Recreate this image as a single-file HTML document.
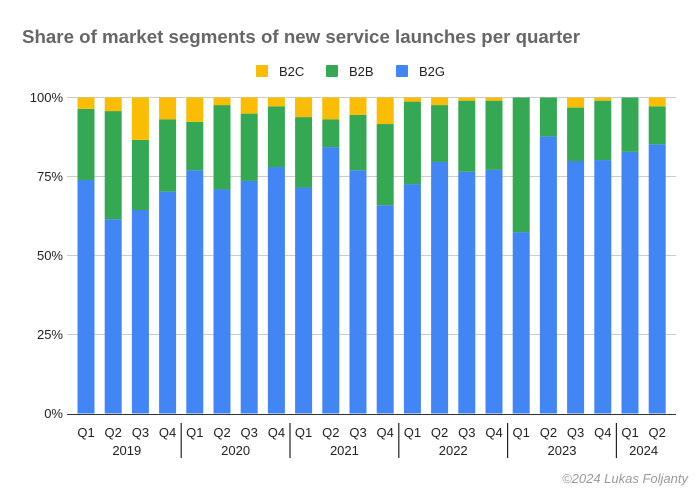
<!DOCTYPE html>
<html><head><meta charset="utf-8"><style>
body{margin:0;background:#fff;}
svg{display:block;font-family:"Liberation Sans",Arial,sans-serif;}
</style></head><body>
<svg id="chart" width="700" height="490" viewBox="0 0 700 490">
<text x="22" y="43" font-size="18" font-weight="bold" fill="#666" textLength="558" lengthAdjust="spacingAndGlyphs">Share of market segments of new service launches per quarter</text>
<g>
<g><rect x="256" y="65" width="12" height="12" rx="1" fill="#FBBC04"/><text x="279" y="76" font-size="13" fill="#222">B2C</text></g>
<g><rect x="326" y="65" width="12" height="12" rx="1" fill="#34A853"/><text x="349" y="76" font-size="13" fill="#222">B2B</text></g>
<g><rect x="396" y="65" width="12" height="12" rx="1" fill="#4285F4"/><text x="419" y="76" font-size="13" fill="#222">B2G</text></g>
</g>
<g id="grid"></g>
<g id="bars"></g>
<g id="xaxis"></g>
<text x="688" y="483" font-size="13" font-style="italic" fill="#999" text-anchor="end">©2024 Lukas Foljanty</text>
</svg>
<script>
const quarters = ["Q1","Q2","Q3","Q4","Q1","Q2","Q3","Q4","Q1","Q2","Q3","Q4","Q1","Q2","Q3","Q4","Q1","Q2","Q3","Q4","Q1","Q2"];
const years = ["2019","2020","2021","2022","2023","2024"];
const b2g = [73.9,61.5,64.4,70.2,77.0,70.9,73.6,78.0,71.5,84.3,77.0,65.9,72.6,79.6,76.5,77.1,57.4,87.7,79.9,80.2,82.8,85.2];
const b2b = [22.5,34.2,22.2,22.9,15.3,26.7,21.3,19.2,22.3,8.8,17.5,25.7,26.1,18.0,22.5,21.9,42.6,12.3,16.9,18.8,17.2,12.0];
const b2c = [3.6,4.3,13.4,6.9,7.7,2.4,5.1,2.8,6.2,6.9,5.5,8.4,1.3,2.4,1.0,1.0,0.0,0.0,3.2,1.0,0.0,2.8];
const yTicks = [0,25,50,75,100];
const yTickLabels = ["0%","25%","50%","75%","100%"];

const NS="http://www.w3.org/2000/svg";
const y0=413.5, yTop=97.5, x0=86, step=27.2, bw=17, plotL=67, plotR=676;
function yScale(v){return y0-(y0-yTop)*v/100;}
function xScale(i){return x0+i*step;}
function mk(tag,attrs,parent){const e=document.createElementNS(NS,tag);for(const k in attrs)e.setAttribute(k,attrs[k]);parent.appendChild(e);return e;}

const grid=document.getElementById('grid');
yTicks.forEach((t,i)=>{
  if(t>0){const l=mk('line',{x1:plotL,x2:plotR,y1:yScale(t),y2:yScale(t),stroke:'#ccc','stroke-width':1},grid);
  
  }
  const tx=mk('text',{x:63,y:yScale(t)+4.5,'font-size':13,fill:'#222','text-anchor':'end'},grid);
  tx.textContent=yTickLabels[i];
  
  
});

const bars=document.getElementById('bars');
const series=[[b2g,'#4285F4','b2g'],[b2b,'#34A853','b2b'],[b2c,'#FBBC04','b2c']];
quarters.forEach((q,i)=>{
  let acc=0;
  series.forEach(([arr,col,nm])=>{
    const v=arr[i]; if(v<=0){return;}
    const top=yScale(acc+v), bot=yScale(acc);
    const r=mk('rect',{x:xScale(i)-bw/2,y:top,width:bw,height:bot-top,fill:col},bars);
    
    
    acc+=v;
  });
});

const xa=document.getElementById('xaxis');
mk('line',{x1:plotL,x2:plotR,y1:414.5,y2:414.5,stroke:'#333','stroke-width':1},xa);
quarters.forEach((q,i)=>{
  const t=mk('text',{x:xScale(i),y:437,'font-size':13,fill:'#222','text-anchor':'middle'},xa);
  t.textContent=q;
  
  
});
years.forEach((yr,k)=>{
  const first=k*4, last=Math.min(first+3,quarters.length-1);
  const cx=(xScale(first)+xScale(last))/2;
  const t=mk('text',{x:cx,y:455,'font-size':13,fill:'#222','text-anchor':'middle'},xa);
  t.textContent=yr;
  
  
  if(k>0){const sx=(xScale(first)+xScale(first-1))/2;
    const s=mk('line',{x1:sx,x2:sx,y1:423,y2:458,stroke:'#222','stroke-width':1.2},xa);
    
    }
});
</script>
</body></html>
